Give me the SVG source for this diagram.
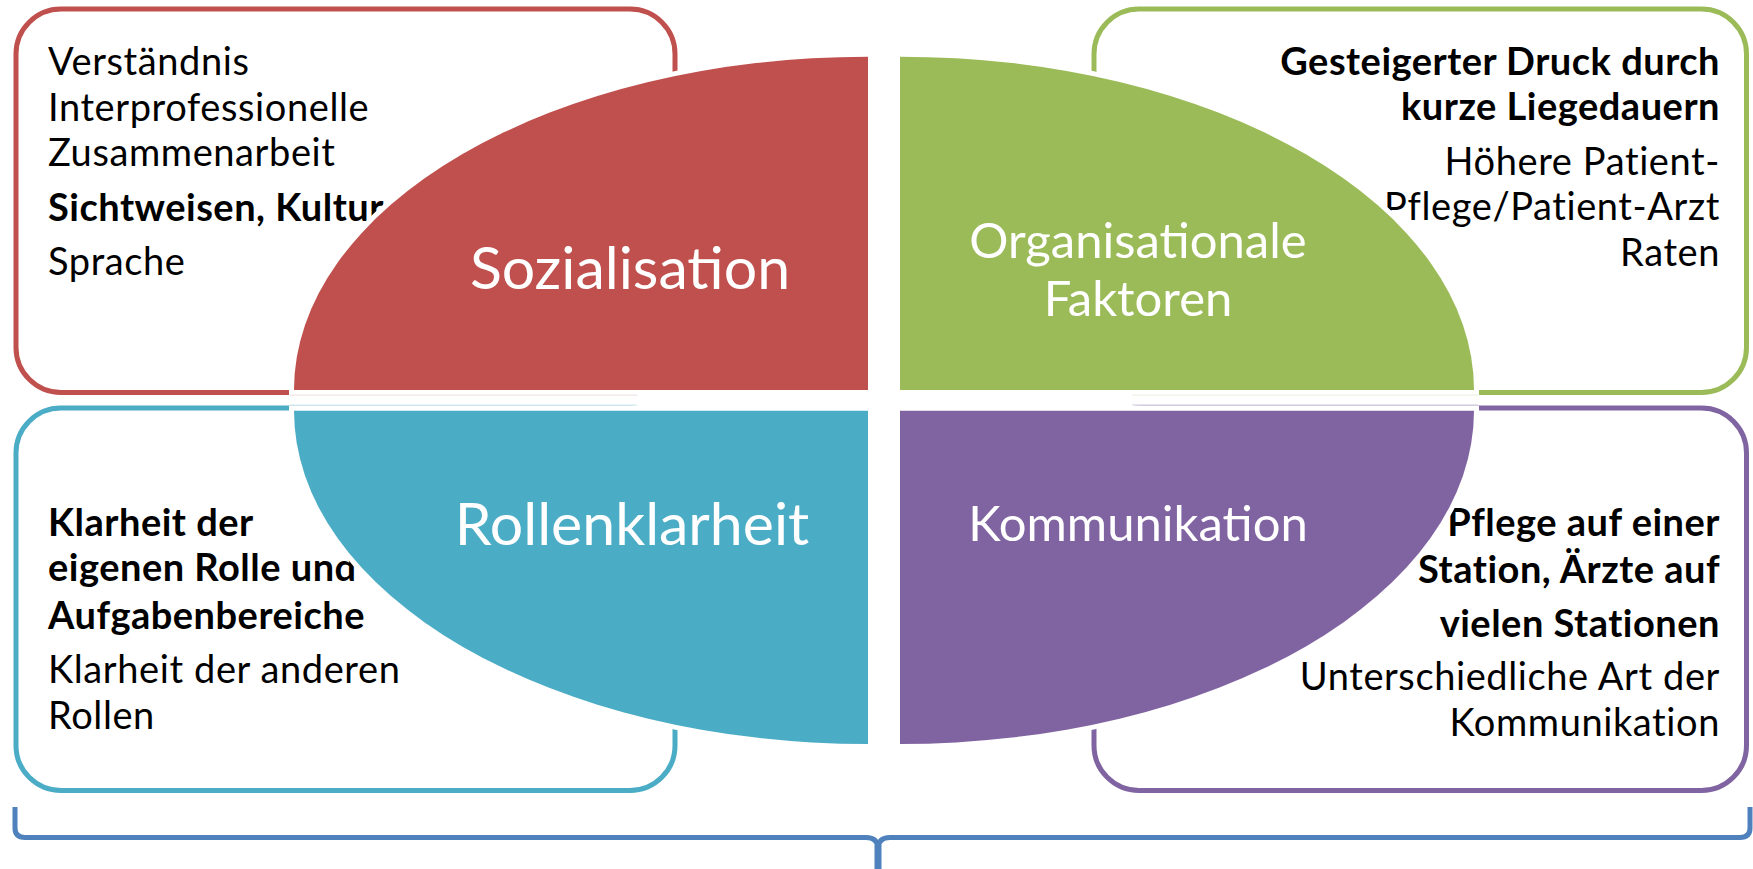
<svg xmlns="http://www.w3.org/2000/svg" width="1753" height="869" viewBox="0 0 1753 869">
  <style>
    .box { fill: #ffffff; stroke-width: 5; }
    .seg { stroke: #ffffff; stroke-width: 10; paint-order: stroke; }
    .t { font-family: Lato, "Open Sans", "Liberation Sans", sans-serif; font-size: 38px; letter-spacing: 0.6px; fill: #000000; }
    .b { font-weight: bold; letter-spacing: 0.5px; }
    .r { text-anchor: end; }
    .lbl { font-family: Lato, "Open Sans", "Liberation Sans", sans-serif; fill: #ffffff; text-anchor: middle; }
    .resid { stroke-width: 1.2; fill: none; }
    .brace { fill: none; stroke: #4F81BD; stroke-width: 5; stroke-linecap: butt; stroke-linejoin: round; }
  </style>

  <rect width="1753" height="869" fill="#ffffff"/>

  <!-- outer boxes with their detail text -->
  <g id="box-sozialisation">
    <rect class="box" x="16" y="9" width="659" height="383.5" rx="45" ry="45" stroke="#C0504D"/>
    <text class="t" x="48" y="75">Verständnis</text>
    <text class="t" x="48" y="121">Interprofessionelle</text>
    <text class="t" x="48" y="166">Zusammenarbeit</text>
    <text class="t b" x="48" y="221">Sichtweisen, Kultur</text>
    <text class="t" x="48" y="275">Sprache</text>
  </g>

  <g id="box-organisation">
    <rect class="box" x="1094" y="9" width="652.5" height="383.5" rx="45" ry="45" stroke="#9BBB59"/>
    <text class="t b r" x="1720" y="75">Gesteigerter Druck durch</text>
    <text class="t b r" x="1720" y="120">kurze Liegedauern</text>
    <text class="t r" x="1720" y="175">Höhere Patient-</text>
    <text class="t r" x="1720" y="220">Pflege/Patient-Arzt</text>
    <text class="t r" x="1720" y="266">Raten</text>
  </g>

  <g id="box-rollenklarheit">
    <rect class="box" x="16" y="408" width="659" height="382.5" rx="45" ry="45" stroke="#4BACC6"/>
    <text class="t b" x="48" y="536">Klarheit der</text>
    <text class="t b" x="48" y="581">eigenen Rolle und</text>
    <text class="t b" x="48" y="629">Aufgabenbereiche</text>
    <text class="t" x="48" y="683">Klarheit der anderen</text>
    <text class="t" x="48" y="729">Rollen</text>
  </g>

  <g id="box-kommunikation">
    <rect class="box" x="1094" y="408" width="652.5" height="382.5" rx="45" ry="45" stroke="#8064A2"/>
    <text class="t b r" x="1720" y="536">Pflege auf einer</text>
    <text class="t b r" x="1720" y="583">Station, Ärzte auf</text>
    <text class="t b r" x="1720" y="637">vielen Stationen</text>
    <text class="t r" x="1720" y="690">Unterschiedliche Art der</text>
    <text class="t r" x="1720" y="736">Kommunikation</text>
  </g>

  <!-- quarter-ellipse segments of the central circle -->
  <g id="seg-sozialisation">
    <path class="seg" fill="#C0504D" d="M868,390 L294,390 A574,333.3 0 0 1 868,56.7 Z"/>
    <text class="lbl" x="630" y="289" font-size="59">Sozialisation</text>
  </g>
  <g id="seg-organisation">
    <path class="seg" fill="#9BBB59" d="M900,390 L900,56.7 A574,333.3 0 0 1 1474,390 Z"/>
    <text class="lbl" x="1138" y="258" font-size="49">Organisationale</text>
    <text class="lbl" x="1138" y="316" font-size="49">Faktoren</text>
  </g>
  <g id="seg-rollenklarheit">
    <path class="seg" fill="#4BACC6" d="M868,410.7 L868,744 A574,333.3 0 0 1 294,410.7 Z"/>
    <text class="lbl" x="632" y="545" font-size="59">Rollenklarheit</text>
  </g>
  <g id="seg-kommunikation">
    <path class="seg" fill="#8064A2" d="M900,410.7 L1474,410.7 A574,333.3 0 0 1 900,744 Z"/>
    <text class="lbl" x="1138" y="541" font-size="49">Kommunikation</text>
  </g>

  <!-- faint leftover edges of the box outlines along the central gap -->
  <g id="edge-residue">
    <line class="resid" x1="290" y1="395.2" x2="637" y2="395.2" stroke="#f1e4e4"/>
    <line class="resid" x1="290" y1="404.8" x2="637" y2="404.8" stroke="#e0eff3"/>
    <line class="resid" x1="1132" y1="395.2" x2="1478" y2="395.2" stroke="#eef2e6"/>
    <line class="resid" x1="1132" y1="404.6" x2="1478" y2="404.6" stroke="#e6e3ea"/>
  </g>

  <!-- connectors: curly bracket gathering all four areas -->
  <g id="connectors">
    <path class="brace" d="M15,807 L15,828 Q15,837.5 25,837.5 L866,837.5 Q878,837.5 878,849"/>
    <path class="brace" d="M878,849 Q878,837.5 890,837.5 L1740,837.5 Q1750,837.5 1750,828 L1750,807"/>
    <line x1="878" y1="845" x2="878" y2="869" stroke="#4F81BD" stroke-width="7"/>
  </g>
</svg>
